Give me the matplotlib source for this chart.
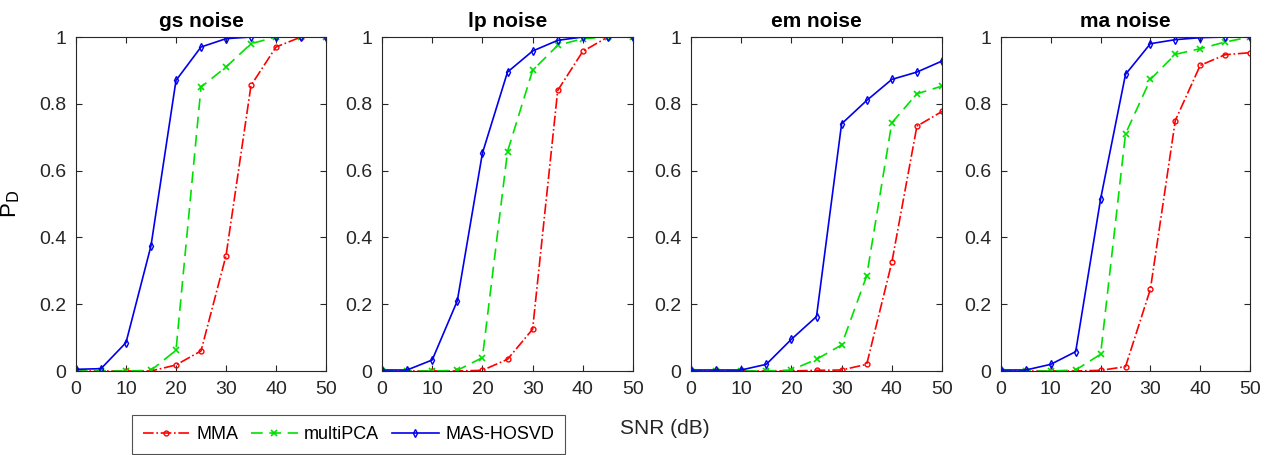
import numpy as np
import matplotlib.pyplot as plt

plt.rcParams['font.family'] = ['Liberation Sans', 'DejaVu Sans']

snr = [0, 5, 10, 15, 20, 25, 30, 35, 40, 45, 50]
titles = ["gs noise", "lp noise", "em noise", "ma noise"]

mma = [
    [0, 0, 0, 0, 0.018, 0.06, 0.345, 0.855, 0.97, 1, 1],
    [0, 0, 0, 0, 0.002, 0.035, 0.125, 0.84, 0.957, 1, 1],
    [0, 0, 0, 0, 0, 0.002, 0.003, 0.02, 0.325, 0.733, 0.777],
    [0, 0, 0, 0, 0.002, 0.013, 0.245, 0.75, 0.915, 0.947, 0.953],
]
multipca = [
    [0, 0, 0, 0.002, 0.062, 0.85, 0.91, 0.98, 1, 1, 1],
    [0, 0, 0, 0.002, 0.04, 0.657, 0.9, 0.975, 0.995, 1, 1],
    [0, 0, 0, 0, 0.003, 0.035, 0.078, 0.285, 0.743, 0.83, 0.853],
    [0, 0, 0, 0.003, 0.05, 0.71, 0.873, 0.948, 0.965, 0.985, 1],
]
mas_hosvd = [
    [0.005, 0.007, 0.085, 0.375, 0.87, 0.97, 0.995, 1, 1, 1, 1],
    [0.003, 0.003, 0.033, 0.21, 0.652, 0.895, 0.958, 0.99, 1, 1, 1],
    [0.003, 0.003, 0.003, 0.02, 0.095, 0.163, 0.74, 0.81, 0.873, 0.895, 0.928],
    [0.003, 0.003, 0.02, 0.058, 0.515, 0.888, 0.98, 0.992, 0.998, 1, 1],
]

fig = plt.figure(figsize=(12.69, 4.55), dpi=100)
W, H = 1269, 455
lefts = [76, 382, 691, 1001]
rights = [326, 633, 942, 1250]
top, bottom = 37, 371

for k in range(4):
    ax = fig.add_axes([lefts[k] / W, 1 - bottom / H, (rights[k] - lefts[k]) / W, (bottom - top) / H])
    l1, = ax.plot(snr, mma[k], color="red", ls="-.", lw=1.2, marker="o", ms=3.5,
                  mfc="none", mew=1.0, label="MMA")
    l2, = ax.plot(snr, multipca[k], color="#00e000", ls=(0, (7, 4)), lw=1.2, marker="x", ms=5,
                  mew=1.2, label="multiPCA")
    l3, = ax.plot(snr, mas_hosvd[k], color="#0000ee", ls="-", lw=1.2, marker="d", ms=4,
                  mfc="none", mew=1.0, label="MAS-HOSVD")
    ax.set_xlim(0, 50)
    ax.set_ylim(0, 1)
    ax.set_xticks([0, 10, 20, 30, 40, 50])
    ax.set_yticks([0, 0.2, 0.4, 0.6, 0.8, 1])
    ax.set_yticklabels(["0", "0.2", "0.4", "0.6", "0.8", "1"])
    ax.tick_params(direction="in", top=True, right=True, length=4, labelsize=14,
                   colors="#262626", labelcolor="#262626", pad=7)
    for s in ax.spines.values():
        s.set_color("#262626")
        s.set_linewidth(0.8)
    ax.set_title(titles[k], fontsize=15, fontweight="bold", pad=7)
    if k == 0:
        ax.set_ylabel("P$_{\\rm D}$", fontsize=16, labelpad=12)

fig.text(620 / W, 1 - 428 / H, "SNR (dB)", fontsize=15, ha="left", va="center", color="#262626")

leg = fig.legend(handles=[l1, l2, l3], loc="upper left", bbox_to_anchor=(132 / W, 1 - 415 / H),
                 ncol=3, fontsize=13, frameon=True, fancybox=False, edgecolor="#262626",
                 handlelength=2.6, columnspacing=0.7, handletextpad=0.35, borderpad=0.6,
                 borderaxespad=0)
leg.get_frame().set_linewidth(0.8)

fig.savefig("out.png", dpi=100)
